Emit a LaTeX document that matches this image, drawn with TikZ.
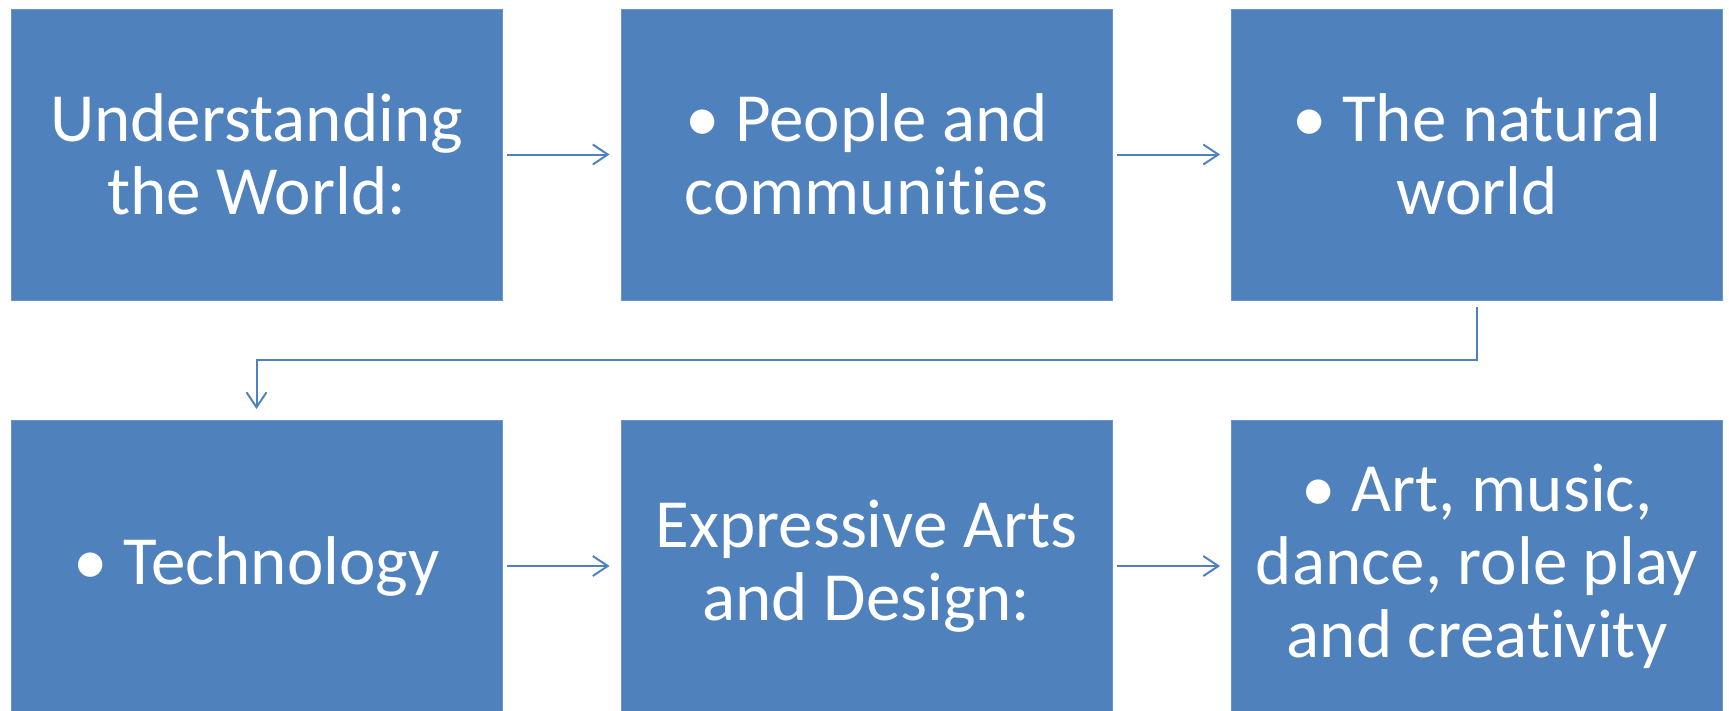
\documentclass[tikz,border=0pt]{standalone}
\usepackage{fontspec}
\setmainfont{Carlito}[Ligatures={NoCommon}]
\usetikzlibrary{arrows.meta,positioning}
\definecolor{boxblue}{HTML}{4F81BD}
\tikzset{
  box/.style={fill=boxblue, draw=boxblue!85!white, line width=0.8pt, minimum width=491pt, minimum height=291pt,
    inner sep=0pt, text=white, align=center, font=\fontsize{69}{73}\selectfont},
  conn/.style={draw=boxblue, line width=2pt, -{Straight Barb[length=15pt,width=20pt,line width=2pt]}}
}
\begin{document}
\begin{tikzpicture}[x=1pt,y=-1pt]
\useasboundingbox (0,0) rectangle (1729,710);
\node[box] (b1) at (256.5,154.5) {Understanding\\the World:};
\node[box] (b2) at (866.5,154.5) {• People and\\communities};
\node[box] (b3) at (1477,154.5) {• The natural\\world};
\node[box] (b4) at (256.5,566) {• Technology};
\node[box] (b5) at (866.5,566) {Expressive Arts\\and Design:};
\node[box] (b6) at (1477,566) {• Art, music,\\dance, role play\\and creativity};
\coordinate (mid) at (0,360);
\draw[conn] ([xshift=5pt]b1.east) -- ([xshift=-11pt]b2.west);
\draw[conn] ([xshift=5pt]b2.east) -- ([xshift=-11pt]b3.west);
\draw[conn] ([yshift=-7pt]b3.south) |- (mid -| b1) -- ([yshift=11pt]b4.north);
\draw[conn] ([xshift=5pt]b4.east) -- ([xshift=-11pt]b5.west);
\draw[conn] ([xshift=5pt]b5.east) -- ([xshift=-11pt]b6.west);
\end{tikzpicture}
\end{document}
